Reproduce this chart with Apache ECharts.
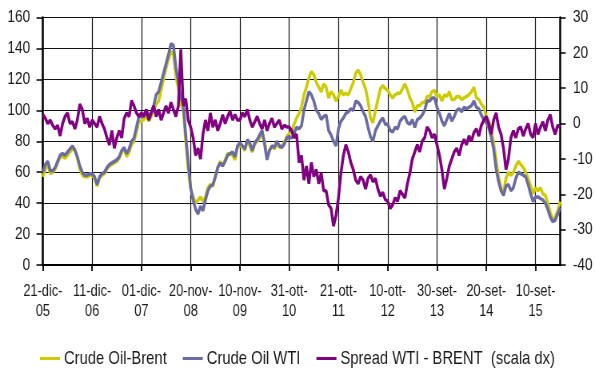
<!DOCTYPE html>
<html><head><meta charset="utf-8">
<script src="https://cdn.jsdelivr.net/npm/echarts@6/dist/echarts.min.js"></script>
<style>
html,body{margin:0;padding:0;background:#fff;overflow:hidden;width:595px;height:372px}
#c{width:744px;height:372px;transform:scaleX(0.7997);transform-origin:0 0}
</style>
</head><body><div id="c"></div>
<script>
// Tick labels of the time axis (one every 20 samples)
const tickLabels = ['21-dic-05','11-dic-06','01-dic-07','20-nov-08','10-nov-09','31-ott-10','21-ott-11','10-ott-12','30-set-13','20-set-14','10-set-15'];
const seriesNames = ['Crude Oil-Brent', 'Crude Oil WTI', 'Spread WTI - BRENT  (scala dx)'];

// Crude Oil-Brent (left scale)
const brent = [
  57,62,65,59,60,62,66,70,70,69,71,73,75,75,69,62,58,57,57,58,
  58,56,51,56,58,59,62,64,65,66,67,69,73,75,70,73,78,80,86,93,
  93,94,97,93,96,100,104,106,113,120,127,133,138,136,122,114,104,100,80,62,
  49,44,40,42,44,41,44,50,52,51,57,63,67,64,68,72,72,71,68,76,
  77,77,74,80,77,73,78,80,82,86,80,70,74,77,75,79,76,77,79,83,
  85,86,91,95,98,102,110,115,121,125,123,118,115,112,117,115,108,112,110,106,
  109,113,110,111,110,114,118,124,126,123,118,114,106,95,92,100,107,114,116,114,
  113,110,108,110,111,111,114,117,113,108,105,99,103,103,105,105,109,109,112,113,
  109,110,106,110,109,112,107,107,109,109,107,108,109,110,112,115,108,107,104,102,
  96,93,88,79,68,57,50,47,56,60,58,60,64,67,65,63,60,56,51,46,
  50,48,50,46,45,40,34,29,31,35,41
];
// Crude Oil WTI (left scale)
const wti = [
  60,65,67,61,61,63,67,71,72,71,73,75,77,74,70,64,60,58,58,59,
  59,57,52,57,59,60,63,65,66,67,68,70,74,76,72,75,80,82,89,96,
  96,97,100,96,99,103,110,112,118,124,130,136,143,142,128,118,108,104,84,66,
  50,42,36,33,38,35,42,48,51,52,57,63,66,64,67,71,72,73,70,77,
  79,77,75,81,79,74,79,81,84,87,78,68,74,77,76,80,77,76,78,82,
  83,82,85,89,88,90,100,106,112,110,106,100,98,94,96,97,87,84,80,77,
  88,93,95,98,99,101,100,106,105,103,99,96,89,83,80,87,90,93,95,91,
  91,87,86,89,88,93,95,96,92,91,94,89,94,95,97,100,106,106,108,108,
  102,98,93,90,94,98,93,96,100,101,99,102,101,102,103,106,102,101,97,94,
  92,89,83,75,62,54,48,45,51,52,48,50,56,60,59,58,57,52,46,41,
  44,44,43,42,40,36,31,28,29,33,37
];
// Spread WTI - BRENT (right scale)
const spread = [
  2.5,1.5,0,1,-0.5,-1.5,-0.5,-3.5,0,2,3,0,0.5,-1.5,1,5.5,4,0,1.5,-1,
  1,0,-1,2,0,-1.5,-4,-6,-2,-7,-4,-2,-4,1.5,3,2,6.5,5,3,2,
  3,2,4,1,3,5,2,4,1,3,5,3,6,4,2,5,21,5,7,1,
  -1,-4,-9,-7,-10,-3,1,-2,3,-1,1,-2,0,2.5,0,2,3.5,1,2.5,1,
  1,3,2,4,1,-1,0.5,2,0,-1.5,1,-2,0,1.5,-1,0,1,-1.5,-0.5,-1,
  -1,-2,-4,-3,-11,-9,-16,-12,-17,-11,-15,-13,-17,-14,-19,-19,-23,-24,-29,-26,
  -21,-14,-9,-6,-8,-11,-13,-16,-17,-15,-16,-18.5,-15.5,-14.5,-16.5,-15.5,-18.5,-20.5,-19.5,-21.5,
  -22,-24,-23,-21,-22,-19,-20,-21,-17,-14,-10,-8,-6,-8,-5,-4,-1,-2,-4,-3,
  -6,-9,-13,-18.5,-15.5,-12,-10,-8,-7,-9,-6,-4.5,-6,-3.5,-5,-2.5,-1.5,-3.5,-0.5,1,
  2,0,-3,1,3,-1,-3,-7,-13,-10,-4,-2,-4,-1.5,-1,-3.5,-1.5,0,-3,-4,
  0,-3,-1,0.5,-2,1,2.5,-1,-3,-0.5,-1
];

const PER_TICK = 20;
const categories = brent.map((_, i) => String(i));

const FONT = "'Liberation Sans', Arial, sans-serif";
const TXT = '#1a1a1a';

const chart = echarts.init(document.getElementById('c'), null, {renderer: 'canvas', width: 744, height: 372});
chart.setOption({
  animation: false,
  backgroundColor: '#fff',
  textStyle: {fontFamily: FONT, color: TXT},
  grid: {left: 53.6, right: 41.3, top: 17.5, bottom: 107, containLabel: false},
  legend: {
    left: 50, top: 349, padding: 0, itemGap: 20,
    icon: 'rect', itemWidth: 25, itemHeight: 3,
    textStyle: {fontSize: 18.5, color: TXT, fontFamily: FONT},
    data: seriesNames
  },
  xAxis: {
    type: 'category', data: categories, boundaryGap: false,
    axisLine: {show: true, lineStyle: {color: '#000', width: 2}},
    axisTick: {show: true, interval: PER_TICK - 1, length: 6, lineStyle: {color: '#000', width: 1.8}},
    splitLine: {show: true, interval: PER_TICK - 1, lineStyle: {color: '#111', width: 1.2}},
    axisLabel: {
      interval: PER_TICK - 1, margin: 17, lineHeight: 20, fontSize: 16, color: TXT, fontFamily: FONT,
      formatter: (v, idx) => {
        const t = tickLabels[Math.round(idx / PER_TICK)];
        return (idx % PER_TICK === 0 && t) ? t.replace(/-(\d\d)$/, '-\n$1') : '';
      }
    }
  },
  yAxis: [
    {
      type: 'value', position: 'left', min: 0, max: 160, interval: 20,
      axisLine: {show: true, lineStyle: {color: '#000', width: 2.5}},
      axisTick: {show: true, length: 8, lineStyle: {color: '#000', width: 1.5}},
      axisLabel: {margin: 16, fontSize: 17, color: TXT, fontFamily: FONT},
      splitLine: {show: true, lineStyle: {color: '#111', width: 1}}
    },
    {
      type: 'value', position: 'right', min: -40, max: 30, interval: 10,
      axisLine: {show: true, lineStyle: {color: '#000', width: 2.5}},
      axisTick: {show: true, length: 7, lineStyle: {color: '#000', width: 1.5}},
      axisLabel: {margin: 16, fontSize: 17, color: TXT, fontFamily: FONT},
      splitLine: {show: false}
    }
  ],
  series: [
    {name: seriesNames[0], type: 'line', yAxisIndex: 0, data: brent, showSymbol: false, symbol: 'none',
     lineStyle: {width: 3.5, color: '#CCCC00'}, itemStyle: {color: '#CCCC00'}, z: 2},
    {name: seriesNames[1], type: 'line', yAxisIndex: 0, data: wti, showSymbol: false, symbol: 'none',
     lineStyle: {width: 3.5, color: '#6B6BA3'}, itemStyle: {color: '#6B6BA3'}, z: 3},
    {name: seriesNames[2], type: 'line', yAxisIndex: 1, data: spread, showSymbol: false, symbol: 'none',
     lineStyle: {width: 3.5, color: '#800080'}, itemStyle: {color: '#800080'}, z: 4}
  ]
});
</script>
</body></html>
